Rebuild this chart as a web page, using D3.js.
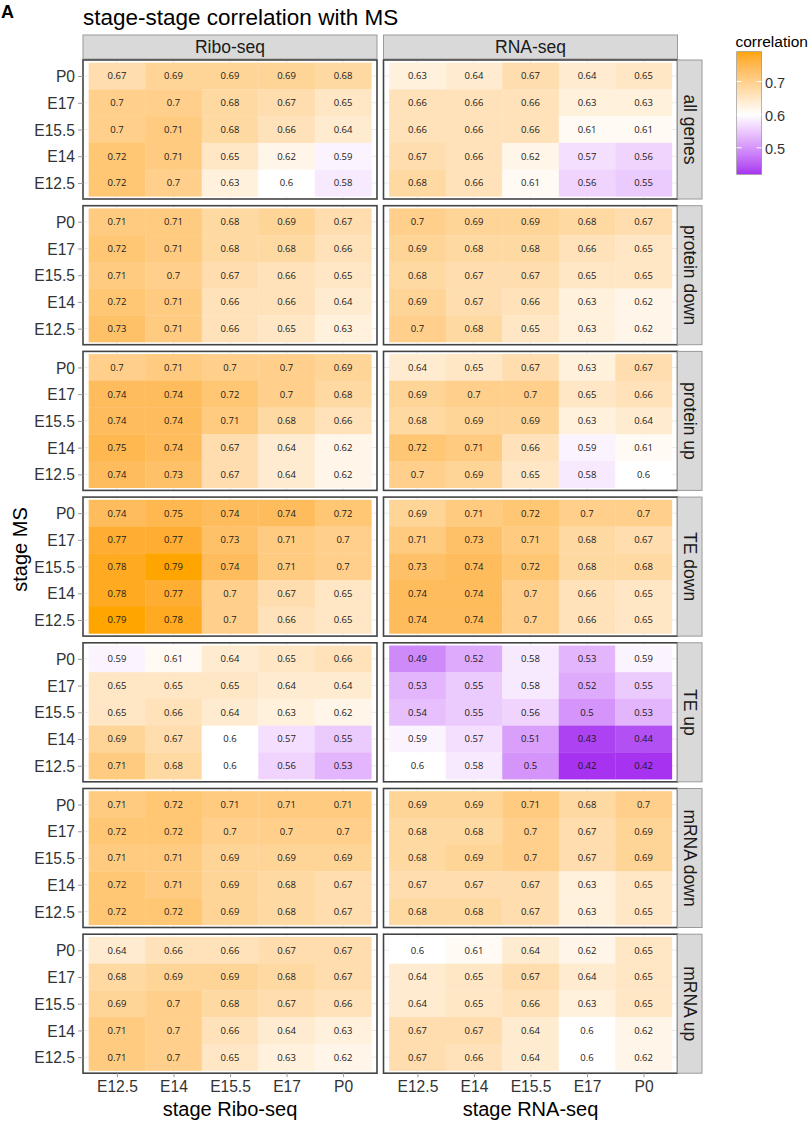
<!DOCTYPE html>
<html>
<head>
<meta charset="utf-8">
<script src="https://cdn.jsdelivr.net/npm/d3@7"></script>
<style>
  body { margin: 0; background: #fff; }
  text { font-family: "Liberation Sans", Arial, sans-serif; }
  .cell-label { font-family: "Open Sans", "Noto Sans", sans-serif; }
</style>
</head>
<body>
<svg id="chart" width="810" height="1123"></svg>
<script>
// ---------- data ----------
const stagesMS = ["P0", "E17", "E15.5", "E14", "E12.5"];      // rows, top to bottom
const stagesSeq = ["E12.5", "E14", "E15.5", "E17", "P0"];     // columns
const assays = ["Ribo-seq", "RNA-seq"];
const groups = ["all genes", "protein down", "protein up", "TE down", "TE up", "mRNA down", "mRNA up"];
const legendTicks = [0.5, 0.6, 0.7];

// each array: rows in stagesMS order, columns in stagesSeq order
const riboAllGenes = [[0.67,0.69,0.69,0.69,0.68],[0.7,0.7,0.68,0.67,0.65],[0.7,0.71,0.68,0.66,0.64],[0.72,0.71,0.65,0.62,0.59],[0.72,0.7,0.63,0.6,0.58]];
const rnaAllGenes = [[0.63,0.64,0.67,0.64,0.65],[0.66,0.66,0.66,0.63,0.63],[0.66,0.66,0.66,0.61,0.61],[0.67,0.66,0.62,0.57,0.56],[0.68,0.66,0.61,0.56,0.55]];
const riboProteinDown = [[0.71,0.71,0.68,0.69,0.67],[0.72,0.71,0.68,0.68,0.66],[0.71,0.7,0.67,0.66,0.65],[0.72,0.71,0.66,0.66,0.64],[0.73,0.71,0.66,0.65,0.63]];
const rnaProteinDown = [[0.7,0.69,0.69,0.68,0.67],[0.69,0.68,0.68,0.66,0.65],[0.68,0.67,0.67,0.65,0.65],[0.69,0.67,0.66,0.63,0.62],[0.7,0.68,0.65,0.63,0.62]];
const riboProteinUp = [[0.7,0.71,0.7,0.7,0.69],[0.74,0.74,0.72,0.7,0.68],[0.74,0.74,0.71,0.68,0.66],[0.75,0.74,0.67,0.64,0.62],[0.74,0.73,0.67,0.64,0.62]];
const rnaProteinUp = [[0.64,0.65,0.67,0.63,0.67],[0.69,0.7,0.7,0.65,0.66],[0.68,0.69,0.69,0.63,0.64],[0.72,0.71,0.66,0.59,0.61],[0.7,0.69,0.65,0.58,0.6]];
const riboTEdown = [[0.74,0.75,0.74,0.74,0.72],[0.77,0.77,0.73,0.71,0.7],[0.78,0.79,0.74,0.71,0.7],[0.78,0.77,0.7,0.67,0.65],[0.79,0.78,0.7,0.66,0.65]];
const rnaTEdown = [[0.69,0.71,0.72,0.7,0.7],[0.71,0.73,0.71,0.68,0.67],[0.73,0.74,0.72,0.68,0.68],[0.74,0.74,0.7,0.66,0.65],[0.74,0.74,0.7,0.66,0.65]];
const riboTEup = [[0.59,0.61,0.64,0.65,0.66],[0.65,0.65,0.65,0.64,0.64],[0.65,0.66,0.64,0.63,0.62],[0.69,0.67,0.6,0.57,0.55],[0.71,0.68,0.6,0.56,0.53]];
const rnaTEup = [[0.49,0.52,0.58,0.53,0.59],[0.53,0.55,0.58,0.52,0.55],[0.54,0.55,0.56,0.5,0.53],[0.59,0.57,0.51,0.43,0.44],[0.6,0.58,0.5,0.42,0.42]];
const riboMrnaDown = [[0.71,0.72,0.71,0.71,0.71],[0.72,0.72,0.7,0.7,0.7],[0.71,0.71,0.69,0.69,0.69],[0.72,0.71,0.69,0.68,0.67],[0.72,0.72,0.69,0.68,0.67]];
const rnaMrnaDown = [[0.69,0.69,0.71,0.68,0.7],[0.68,0.68,0.7,0.67,0.69],[0.68,0.69,0.7,0.67,0.69],[0.67,0.67,0.67,0.63,0.65],[0.68,0.68,0.67,0.63,0.65]];
const riboMrnaUp = [[0.64,0.66,0.66,0.67,0.67],[0.68,0.69,0.69,0.68,0.67],[0.69,0.7,0.68,0.67,0.66],[0.71,0.7,0.66,0.64,0.63],[0.71,0.7,0.65,0.63,0.62]];
const rnaMrnaUp = [[0.6,0.61,0.64,0.62,0.65],[0.64,0.65,0.67,0.64,0.65],[0.64,0.65,0.66,0.63,0.65],[0.67,0.67,0.64,0.6,0.62],[0.67,0.66,0.64,0.6,0.62]];

const panelData = {
  "all genes":    [riboAllGenes, rnaAllGenes],
  "protein down": [riboProteinDown, rnaProteinDown],
  "protein up":   [riboProteinUp, rnaProteinUp],
  "TE down":      [riboTEdown, rnaTEdown],
  "TE up":        [riboTEup, rnaTEup],
  "mRNA down":    [riboMrnaDown, rnaMrnaDown],
  "mRNA up":      [riboMrnaUp, rnaMrnaUp]
};

// ---------- layout ----------
const svg = d3.select("#chart");
const colX = [83, 383.5];
const panelW = 294;
const panelTop = 60;
const panelH = 139;
const panelStep = 145.7;
const stripH = 24;
const rowStripW = 24.5;

// colour scale (gradient2: purple - white - orange, midpoint 0.6)
const allVals = Object.values(panelData).flat(3);
const ext = d3.extent(allVals);
const mid = 0.6;
const maxAbs = Math.max(mid - ext[0], ext[1] - mid);
const color = d3.scaleLinear()
  .domain([mid - maxAbs, mid, mid + maxAbs])
  .range(["#A020F0", "#FFFFFF", "#FFA500"])
  .interpolate(d3.interpolateLab);

// title & tag
svg.append("text").attr("x", 1).attr("y", 18).attr("font-size", 18).attr("font-weight", "bold").text("A");
svg.append("text").attr("x", 83).attr("y", 25).attr("font-size", 22.5).attr("fill", "#000").text("stage-stage correlation with MS");

const lastPanelBottom = panelTop + (groups.length - 1) * panelStep + panelH;

assays.forEach((assay, ci) => {
  const x0 = colX[ci];
  const x = d3.scalePoint().domain(stagesSeq).range([x0, x0 + panelW]).padding(0.6);
  const cw = x.step();

  // column strip
  svg.append("rect").attr("x", x0).attr("y", 35).attr("width", panelW).attr("height", stripH)
    .attr("fill", "#D9D9D9").attr("stroke", "#9a9a9a").attr("stroke-width", 1);
  svg.append("text").attr("x", x0 + panelW / 2).attr("y", 47).attr("dy", "0.35em")
    .attr("text-anchor", "middle").attr("font-size", 17.5).attr("fill", "#1A1A1A").text(assay);

  groups.forEach((grp, gi) => {
    const y0 = panelTop + gi * panelStep;
    const y = d3.scalePoint().domain(stagesMS).range([y0, y0 + panelH]).padding(0.6);
    const ch = y.step();
    const g = svg.append("g");

    // background + grid
    g.append("rect").attr("x", x0).attr("y", y0).attr("width", panelW).attr("height", panelH).attr("fill", "#fff");
    g.selectAll(".gx").data(stagesSeq).join("line")
      .attr("x1", d => x(d)).attr("x2", d => x(d)).attr("y1", y0).attr("y2", y0 + panelH)
      .attr("stroke", "#EBEBEB").attr("stroke-width", 1);
    g.selectAll(".gy").data(stagesMS).join("line")
      .attr("y1", d => y(d)).attr("y2", d => y(d)).attr("x1", x0).attr("x2", x0 + panelW)
      .attr("stroke", "#EBEBEB").attr("stroke-width", 1);

    const mat = panelData[grp][ci];
    const cells = [];
    stagesMS.forEach((ms, ri) => stagesSeq.forEach((sq, cj) => cells.push({ ms, sq, v: mat[ri][cj] })));

    g.selectAll("rect.tile").data(cells).join("rect").attr("class", "tile")
      .attr("x", d => x(d.sq) - cw / 2).attr("y", d => y(d.ms) - ch / 2)
      .attr("width", cw + 0.3).attr("height", ch + 0.3)
      .attr("fill", d => color(d.v));
    g.selectAll("text.cell-label").data(cells).join("text").attr("class", "cell-label")
      .attr("x", d => x(d.sq)).attr("y", d => y(d.ms)).attr("dy", "0.36em")
      .attr("text-anchor", "middle").attr("font-size", 9.5).attr("fill", "#1a1a1a")
      .text(d => String(d.v));

    // panel border
    g.append("rect").attr("x", x0).attr("y", y0).attr("width", panelW).attr("height", panelH)
      .attr("fill", "none").attr("stroke", "#444").attr("stroke-width", 1.6);

    // y axis (left column only)
    if (ci === 0) {
      const ya = svg.append("g").attr("transform", `translate(${x0},0)`)
        .call(d3.axisLeft(y).tickSize(5).tickPadding(3));
      ya.select(".domain").remove();
      ya.selectAll(".tick line").attr("stroke", "#9a9a9a");
      ya.selectAll(".tick text").attr("font-size", 15.6).attr("fill", "#333")
        .attr("font-family", "'Liberation Sans', Arial, sans-serif").attr("dy", "0.36em");
    }

    // row strip (right column only)
    if (ci === 1) {
      const sx = x0 + panelW;
      svg.append("rect").attr("x", sx).attr("y", y0).attr("width", rowStripW).attr("height", panelH)
        .attr("fill", "#D9D9D9").attr("stroke", "#9a9a9a").attr("stroke-width", 1);
      svg.append("text")
        .attr("transform", `translate(${sx + rowStripW / 2},${y0 + panelH / 2}) rotate(90)`)
        .attr("dy", "0.35em").attr("text-anchor", "middle").attr("font-size", 17.5).attr("fill", "#1A1A1A")
        .text(grp);
    }
  });

  // x axis at bottom
  const xa = svg.append("g").attr("transform", `translate(0,${lastPanelBottom})`)
    .call(d3.axisBottom(x).tickSize(4).tickPadding(4));
  xa.select(".domain").remove();
  xa.selectAll(".tick line").attr("stroke", "#9a9a9a");
  xa.selectAll(".tick text").attr("font-size", 15.6).attr("fill", "#333")
    .attr("font-family", "'Liberation Sans', Arial, sans-serif");

  svg.append("text").attr("x", x0 + panelW / 2).attr("y", 1116).attr("text-anchor", "middle")
    .attr("font-size", 20).attr("fill", "#000").text("stage " + assay);
});

// y axis title
svg.append("text").attr("transform", "translate(26.5,549.5) rotate(-90)")
  .attr("text-anchor", "middle").attr("font-size", 20).attr("fill", "#000").text("stage MS");

// ---------- legend ----------
const lgX = 736.7, lgW = 25, lgTop = 51.7, lgBot = 174.3;
const ly = d3.scaleLinear().domain(ext).range([lgBot, lgTop]);
const defs = svg.append("defs");
const grad = defs.append("linearGradient").attr("id", "lgrad").attr("x1", 0).attr("y1", 1).attr("x2", 0).attr("y2", 0);
d3.range(0, 1.0001, 0.02).forEach(t => {
  grad.append("stop").attr("offset", t).attr("stop-color", color(ext[0] + t * (ext[1] - ext[0])));
});
svg.append("text").attr("x", 735.5).attr("y", 46.5).attr("font-size", 15.5).attr("fill", "#000").text("correlation");
svg.append("rect").attr("x", lgX).attr("y", lgTop).attr("width", lgW).attr("height", lgBot - lgTop)
  .attr("fill", "url(#lgrad)").attr("stroke", "#888").attr("stroke-width", 0.6);
legendTicks.forEach(v => {
  svg.append("line").attr("x1", lgX).attr("x2", lgX + 5).attr("y1", ly(v)).attr("y2", ly(v))
    .attr("stroke", "#fff").attr("stroke-width", 1);
  svg.append("line").attr("x1", lgX + lgW - 5).attr("x2", lgX + lgW).attr("y1", ly(v)).attr("y2", ly(v))
    .attr("stroke", "#fff").attr("stroke-width", 1);
  svg.append("text").attr("x", 765).attr("y", ly(v)).attr("dy", "0.42em")
    .attr("font-size", 14.5).attr("fill", "#333").text(String(v));
});
</script>
</body>
</html>
